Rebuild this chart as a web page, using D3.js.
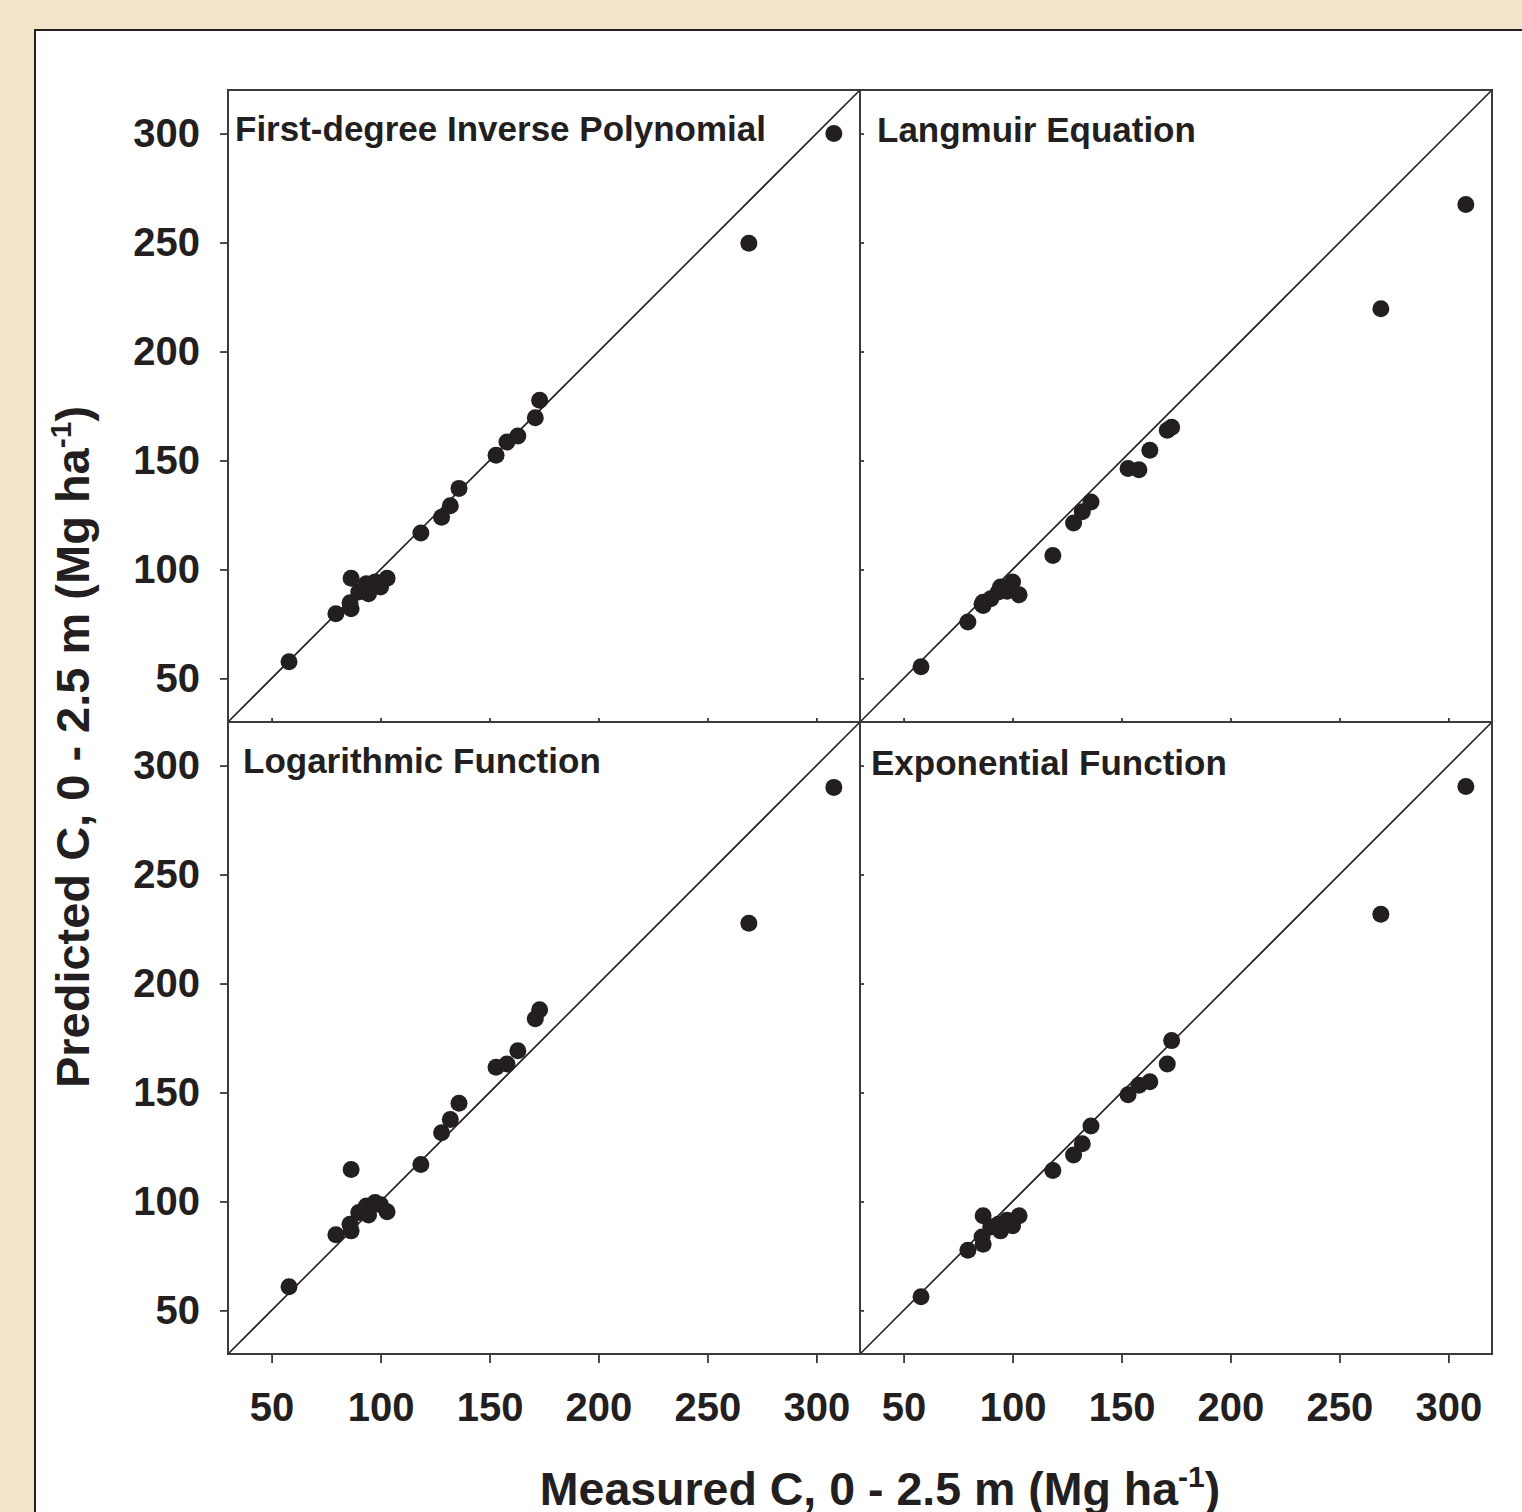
<!DOCTYPE html>
<html>
<head>
<meta charset="utf-8">
<script src="https://cdn.jsdelivr.net/npm/d3@7"></script>
<style>
  body { margin: 0; background: #f3e5c9; }
  svg text { font-family: "Liberation Sans", Arial, sans-serif; font-weight: bold; fill: #231f20; }
</style>
</head>
<body>
<div id="chart"></div>
<script>
// measured C (same for every panel)
var measured = [58, 79.5, 86.5, 86.5, 86, 90, 93.5, 94.5, 97.5, 100, 103, 118.5, 128, 132, 136, 153, 158, 163, 171, 173, 269, 308];

// predicted C per model
var predInvPoly = [57.6, 79.7, 96, 82, 84.7, 89.6, 93.4, 88.9, 94.2, 91.9, 96, 116.7, 123.9, 129.2, 137.2, 152.4, 158.5, 161.2, 169.6, 177.6, 249.7, 300];
var predLangmuir = [55.3, 75.9, 85, 83.5, 84, 86.6, 89.6, 91.9, 90, 94.2, 88.4, 106.4, 121.3, 126.5, 131, 146.3, 145.7, 154.7, 163.9, 165.3, 219.6, 267.5];
var predLog = [60.9, 84.7, 114.7, 86.5, 89.5, 94.9, 97.9, 93.8, 99.5, 98.5, 95.3, 117, 131.5, 137.6, 145.1, 161.6, 163.1, 169.2, 183.8, 188, 227.7, 290];
var predExp = [56.3, 77.6, 93.4, 80.4, 83.7, 88.3, 89.5, 86.5, 91.4, 88.9, 93.4, 114.2, 121.3, 126.5, 134.6, 149, 153.3, 154.9, 163.1, 173.8, 231.8, 290.4];

var panelTitles = ["First-degree Inverse Polynomial", "Langmuir Equation", "Logarithmic Function", "Exponential Function"];
var tickValues = [50, 100, 150, 200, 250, 300];
var axisDomain = [30, 320];

var width = 1522;
var height = 1512;
var plot = { left: 228, top: 90, size: 632 };
var ink = "#231f20";

var panels = [
  { title: panelTitles[0], pred: predInvPoly, col: 0, row: 0, titleX: 7, titleY: 51 },
  { title: panelTitles[1], pred: predLangmuir, col: 1, row: 0, titleX: 17, titleY: 52 },
  { title: panelTitles[2], pred: predLog, col: 0, row: 1, titleX: 15, titleY: 51 },
  { title: panelTitles[3], pred: predExp, col: 1, row: 1, titleX: 11, titleY: 53 }
];

var svg = d3.select("#chart").append("svg")
  .attr("width", width)
  .attr("height", height);

svg.append("rect")
  .attr("width", width).attr("height", height)
  .attr("fill", "#f3e5c9");

// white card
svg.append("rect")
  .attr("x", 35).attr("y", 30)
  .attr("width", 1600).attr("height", 1600)
  .attr("fill", "#fff")
  .attr("stroke", ink)
  .attr("stroke-width", 2);

panels.forEach(function (p) {
  var x0 = plot.left + p.col * plot.size;
  var y0 = plot.top + p.row * plot.size;

  var xScale = d3.scaleLinear().domain(axisDomain).range([0, plot.size]);
  var yScale = d3.scaleLinear().domain(axisDomain).range([plot.size, 0]);

  var g = svg.append("g").attr("transform", `translate(${x0},${y0})`);

  // 1:1 line
  g.append("line")
    .attr("x1", xScale(axisDomain[0])).attr("y1", yScale(axisDomain[0]))
    .attr("x2", xScale(axisDomain[1])).attr("y2", yScale(axisDomain[1]))
    .attr("stroke", ink)
    .attr("stroke-width", 1.6);

  // points
  g.selectAll("circle")
    .data(measured.map((m, i) => ({ x: m, y: p.pred[i] })))
    .join("circle")
    .attr("cx", d => xScale(d.x))
    .attr("cy", d => yScale(d.y))
    .attr("r", 8.5)
    .attr("fill", ink);

  // x axis
  var xAxis = g.append("g").attr("transform", `translate(0,${plot.size})`);
  if (p.row == 1) {
    xAxis.call(d3.axisBottom(xScale).tickValues(tickValues).tickSize(9).tickPadding(30));
  } else {
    xAxis.call(d3.axisBottom(xScale).tickValues(tickValues).tickSize(-4).tickFormat(""));
  }

  // y axis
  var yAxis = g.append("g");
  if (p.col == 0) {
    yAxis.call(d3.axisLeft(yScale).tickValues(tickValues).tickSize(8).tickPadding(20));
  } else {
    yAxis.call(d3.axisLeft(yScale).tickValues(tickValues).tickSize(-4).tickFormat(""));
  }

  [xAxis, yAxis].forEach(function (a) {
    a.select(".domain").remove();
    a.selectAll(".tick line").attr("stroke", ink).attr("stroke-width", 1.6);
    a.selectAll(".tick text")
      .attr("font-size", "40px")
      .attr("fill", ink)
      .attr("font-family", null);
  });

  // frame
  g.append("rect")
    .attr("width", plot.size).attr("height", plot.size)
    .attr("fill", "none")
    .attr("stroke", "#3b3b3b")
    .attr("stroke-width", 2);

  g.append("text")
    .attr("x", p.titleX)
    .attr("y", p.titleY)
    .attr("font-size", "35px")
    .text(p.title);
});

// x axis title
var xt = svg.append("text")
  .attr("x", 880)
  .attr("y", 1505)
  .attr("text-anchor", "middle")
  .attr("font-size", "46.5px");
xt.append("tspan").text("Measured C, 0 - 2.5 m (Mg ha");
xt.append("tspan").attr("font-size", "30px").attr("dy", "-18").text("-1");
xt.append("tspan").attr("dy", "18").text(")");

// y axis title
var yt = svg.append("text")
  .attr("transform", "translate(89,747) rotate(-90)")
  .attr("text-anchor", "middle")
  .attr("font-size", "47px");
yt.append("tspan").text("Predicted C, 0 - 2.5 m (Mg ha");
yt.append("tspan").attr("font-size", "30px").attr("dy", "-18").text("-1");
yt.append("tspan").attr("dy", "18").text(")");
</script>
</body>
</html>
